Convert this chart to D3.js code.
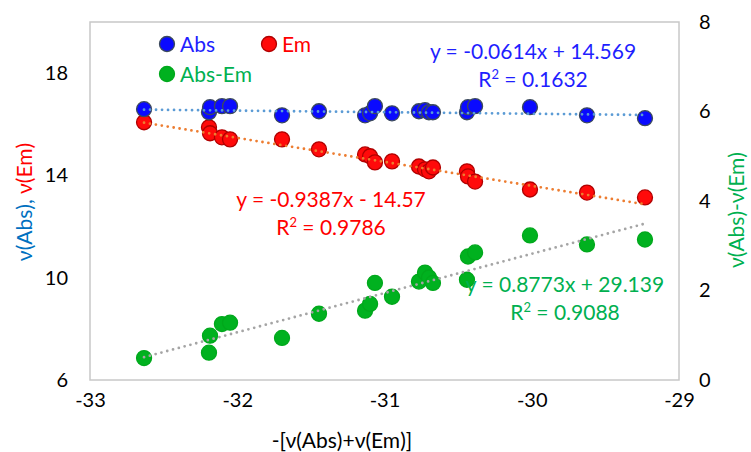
<!DOCTYPE html>
<html>
<head>
<meta charset="utf-8">
<script src="https://cdn.jsdelivr.net/npm/d3@7"></script>
<style>
  body { margin: 0; background: #fff; }
  svg { font-family: Lato, "Open Sans", sans-serif; }
</style>
</head>
<body>
<svg id="chart"></svg>
<script>
// values
var sumX  = [-32.633, -32.192, -32.185, -32.104, -32.049, -31.696, -31.445, -31.132, -31.098, -31.065, -30.949,
             -30.766, -30.725, -30.698, -30.671, -30.440, -30.433, -30.385, -30.012, -29.625, -29.231]
var absV  = [16.59, 16.47, 16.67, 16.71, 16.71, 16.35, 16.51, 16.35, 16.43, 16.71, 16.43,
             16.51, 16.55, 16.47, 16.47, 16.47, 16.67, 16.71, 16.67, 16.35, 16.24]
var emV   = [16.08, 15.88, 15.65, 15.49, 15.41, 15.41, 15.02, 14.82, 14.75, 14.51, 14.55,
             14.35, 14.24, 14.16, 14.31, 14.16, 13.96, 13.76, 13.45, 13.33, 13.14]
var diffV = [0.49, 0.61, 0.99, 1.25, 1.28, 0.94, 1.48, 1.55, 1.70, 2.17, 1.86,
             2.20, 2.40, 2.29, 2.17, 2.24, 2.76, 2.85, 3.23, 3.03, 3.14]

var xTicks = [-33, -32, -31, -30, -29]
var yLeftTicks = [6, 10, 14, 18]
var yRightTicks = [0, 2, 4, 6, 8]

// trendline equations shown on the chart
var trends = [
  { name: "Abs", slope: -0.0614, icept: 14.569, r2: "0.1632", axis: "left", line: "#5B9BD5", text: "#1F1FFF" },
  { name: "Em", slope: -0.9387, icept: -14.57, r2: "0.9786", axis: "left", line: "#ED7D31", text: "#FF0000" },
  { name: "Abs-Em", slope: 0.8773, icept: 29.139, r2: "0.9088", axis: "right", line: "#A5A5A5", text: "#00B050" }
]

var dimensions = {
  width: 751,
  height: 452,
  margin: { top: 22, bottom: 72, left: 90, right: 72 }
}

var svg = d3.select("#chart")
            .attr("width", dimensions.width)
            .attr("height", dimensions.height)

var xScale = d3.scaleLinear()
               .domain([-33, -29])
               .range([dimensions.margin.left, dimensions.width - dimensions.margin.right])

var yLeft = d3.scaleLinear()
              .domain([6, 20])
              .range([dimensions.height - dimensions.margin.bottom, dimensions.margin.top])

var yRight = d3.scaleLinear()
               .domain([0, 8])
               .range([dimensions.height - dimensions.margin.bottom, dimensions.margin.top])

// plot area frame
svg.append("rect")
   .attr("x", xScale(-33))
   .attr("y", yLeft(20))
   .attr("width", xScale(-29) - xScale(-33))
   .attr("height", yLeft(6) - yLeft(20))
   .attr("fill", "none")
   .attr("stroke", "#C8C8C8")
   .attr("stroke-width", 1.5)

// axes
var fmt = d => String(d)
var xAxis = svg.append("g")
               .attr("transform", `translate(0,${yLeft(6)})`)
               .call(d3.axisBottom(xScale).tickValues(xTicks).tickFormat(fmt).tickSize(0).tickPadding(13))
var yAxisL = svg.append("g")
                .attr("transform", `translate(${xScale(-33)},0)`)
                .call(d3.axisLeft(yLeft).tickValues(yLeftTicks).tickFormat(fmt).tickSize(0).tickPadding(22))
var yAxisR = svg.append("g")
                .attr("transform", `translate(${xScale(-29)},0)`)
                .call(d3.axisRight(yRight).tickValues(yRightTicks).tickFormat(fmt).tickSize(0).tickPadding(20))

svg.selectAll(".domain").remove()
svg.selectAll(".tick text")
   .attr("font-size", 20)
   .attr("fill", "#000")
   .attr("font-family", "Lato, 'Open Sans', sans-serif")

// trendlines
var xMin = d3.min(sumX), xMax = d3.max(sumX)
function drawTrend(t) {
  var ys = t.axis == "left" ? yLeft : yRight
  svg.append("line")
     .attr("x1", xScale(xMin))
     .attr("y1", ys(t.slope * xMin + t.icept))
     .attr("x2", xScale(xMax))
     .attr("y2", ys(t.slope * xMax + t.icept))
     .attr("stroke", t.line)
     .attr("stroke-width", 2.8)
     .attr("stroke-linecap", "round")
     .attr("stroke-dasharray", "0,6")
}

// points
function drawPoints(values, ys, fill, stroke) {
  svg.append("g")
     .selectAll("circle")
     .data(values)
     .enter()
     .append("circle")
     .attr("cx", (d, i) => xScale(sumX[i]))
     .attr("cy", d => ys(d))
     .attr("r", 7.5)
     .attr("fill", fill)
     .attr("stroke", stroke)
     .attr("stroke-width", 1.3)
}
drawPoints(diffV, yRight, "#00B11F", "#00A81C")
drawPoints(emV, yLeft, "#FF0A0A", "#B00000")
drawPoints(absV, yLeft, "#0A0AFF", "#3C4A5C")

// trendlines sit on top of the markers
trends.forEach(drawTrend)

// trend labels
var labelPos = { "Abs": [533, 59], "Em": [331, 207], "Abs-Em": [565, 292] }
trends.forEach(function(t) {
  var p = labelPos[t.name]
  var sign = t.icept < 0 ? " - " : " + "
  var g = svg.append("g").attr("fill", t.text).attr("font-size", 21).attr("text-anchor", "middle")
  g.append("text").attr("x", p[0]).attr("y", p[1])
   .text("y = " + t.slope + "x" + sign + Math.abs(t.icept))
  var r = g.append("text").attr("x", p[0]).attr("y", p[1] + 28)
  r.append("tspan").text("R")
  r.append("tspan").attr("font-size", 13).attr("dy", -8).text("2")
  r.append("tspan").attr("dy", 8).text(" = " + t.r2)
})

// legend
var legend = [
  { name: "Abs", x: 167, y: 44, fill: "#0A0AFF", stroke: "#3C4A5C", text: "#1F1FFF" },
  { name: "Em", x: 269, y: 44, fill: "#FF0A0A", stroke: "#B00000", text: "#FF0000" },
  { name: "Abs-Em", x: 167, y: 74, fill: "#00B11F", stroke: "#00A81C", text: "#00B050" }
]
legend.forEach(function(l) {
  svg.append("circle").attr("cx", l.x).attr("cy", l.y).attr("r", 7.5)
     .attr("fill", l.fill).attr("stroke", l.stroke).attr("stroke-width", 1.3)
  svg.append("text").attr("x", l.x + 13).attr("y", l.y + 7.5)
     .attr("font-size", 21).attr("fill", l.text).text(l.name)
})

// axis titles
svg.append("text")
   .attr("x", 342).attr("y", 448)
   .attr("text-anchor", "middle").attr("font-size", 21).attr("fill", "#000")
   .text("-[ν(Abs)+ν(Em)]")

var lt = svg.append("text")
            .attr("transform", "translate(32,202) rotate(-90)")
            .attr("text-anchor", "middle").attr("font-size", 21)
lt.append("tspan").attr("fill", "#0070C0").text("ν(Abs), ")
lt.append("tspan").attr("fill", "#FF0000").text("ν(Em)")

svg.append("text")
   .attr("transform", "translate(744,210) rotate(-90)")
   .attr("text-anchor", "middle").attr("font-size", 21).attr("fill", "#00B050")
   .text("ν(Abs)-ν(Em)")
</script>
</body>
</html>
